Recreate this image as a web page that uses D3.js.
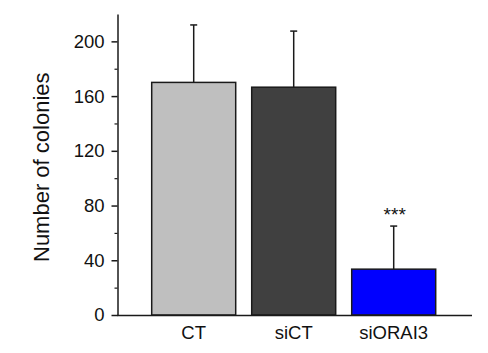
<!DOCTYPE html>
<html><head><meta charset="utf-8">
<script src="https://cdn.jsdelivr.net/npm/d3@7"></script>
<style>body{margin:0;background:#fff}svg{display:block}text{font-family:Arial,"Liberation Sans",sans-serif;fill:#111}</style>
</head><body>
<script>
const categories = ["CT", "siCT", "siORAI3"];
const means = [170, 166.5, 33.5];
const errors = [42, 41, 31.5];
const colors = ["#bfbfbf", "#404040", "#0000ff"];
const yTicks = [0, 40, 80, 120, 160, 200];
const yMinorTicks = [20, 60, 100, 140, 180];
const significance = ["", "", "***"];

const W = 488, H = 353;
const svg = d3.select("body").append("svg").attr("width", W).attr("height", H);

const y = d3.scaleLinear().domain([0, 220]).range([315, 14]);
const x = d3.scaleBand().domain(categories).range([143.7, 443.7]).paddingInner(0.16).paddingOuter(0.08);

// bars
svg.selectAll("rect.bar").data(categories).enter().append("rect")
  .attr("x", d => x(d)).attr("width", x.bandwidth())
  .attr("y", (d, i) => y(means[i])).attr("height", (d, i) => y(0) - y(means[i]))
  .attr("fill", (d, i) => colors[i]).attr("stroke", "#1a1a1a").attr("stroke-width", 1.5);

// error bars
categories.forEach((c, i) => {
  const cx = x(c) + x.bandwidth() / 2;
  svg.append("line").attr("x1", cx).attr("x2", cx).attr("y1", y(means[i])).attr("y2", y(means[i] + errors[i]))
    .attr("stroke", "#1a1a1a").attr("stroke-width", 1.5);
  svg.append("line").attr("x1", cx - 3.5).attr("x2", cx + 3.5).attr("y1", y(means[i] + errors[i])).attr("y2", y(means[i] + errors[i]))
    .attr("stroke", "#1a1a1a").attr("stroke-width", 1.5);
  if (significance[i]) {
    svg.append("text").attr("x", cx + 1).attr("y", y(means[i] + errors[i]) - 5)
      .attr("text-anchor", "middle").attr("font-size", 19).text(significance[i]);
  }
});

// y axis
const yAxis = svg.append("g").attr("transform", "translate(117.5,0)")
  .call(d3.axisLeft(y).tickValues(yTicks).tickSize(6).tickPadding(7).tickSizeOuter(0));
yAxis.select(".domain").attr("stroke", "#1a1a1a").attr("stroke-width", 1.5);
yAxis.selectAll(".tick line").attr("stroke", "#1a1a1a").attr("stroke-width", 1.5);
yAxis.selectAll(".tick text").attr("font-size", 18.5).attr("font-family", "Arial, 'Liberation Sans', sans-serif").attr("fill", "#111");
const yMinor = svg.append("g").attr("transform", "translate(117.5,0)")
  .call(d3.axisLeft(y).tickValues(yMinorTicks).tickSize(3).tickFormat(""));
yMinor.select(".domain").remove();
yMinor.selectAll(".tick line").attr("stroke", "#1a1a1a").attr("stroke-width", 1.2);

// x axis
const xAxis = svg.append("g").attr("transform", "translate(0,315.5)")
  .call(d3.axisBottom(x).tickSize(0).tickPadding(10));
xAxis.select(".domain").attr("d", "M117,0H472").attr("stroke", "#1a1a1a").attr("stroke-width", 1.5);
xAxis.selectAll(".tick text").attr("font-size", 18.5).attr("font-family", "Arial, 'Liberation Sans', sans-serif").attr("fill", "#111");

// y label
svg.append("text").attr("transform", "translate(49," + y(108) + ") rotate(-90)")
  .attr("text-anchor", "middle").attr("font-size", 22).text("Number of colonies");
</script>
</body></html>
